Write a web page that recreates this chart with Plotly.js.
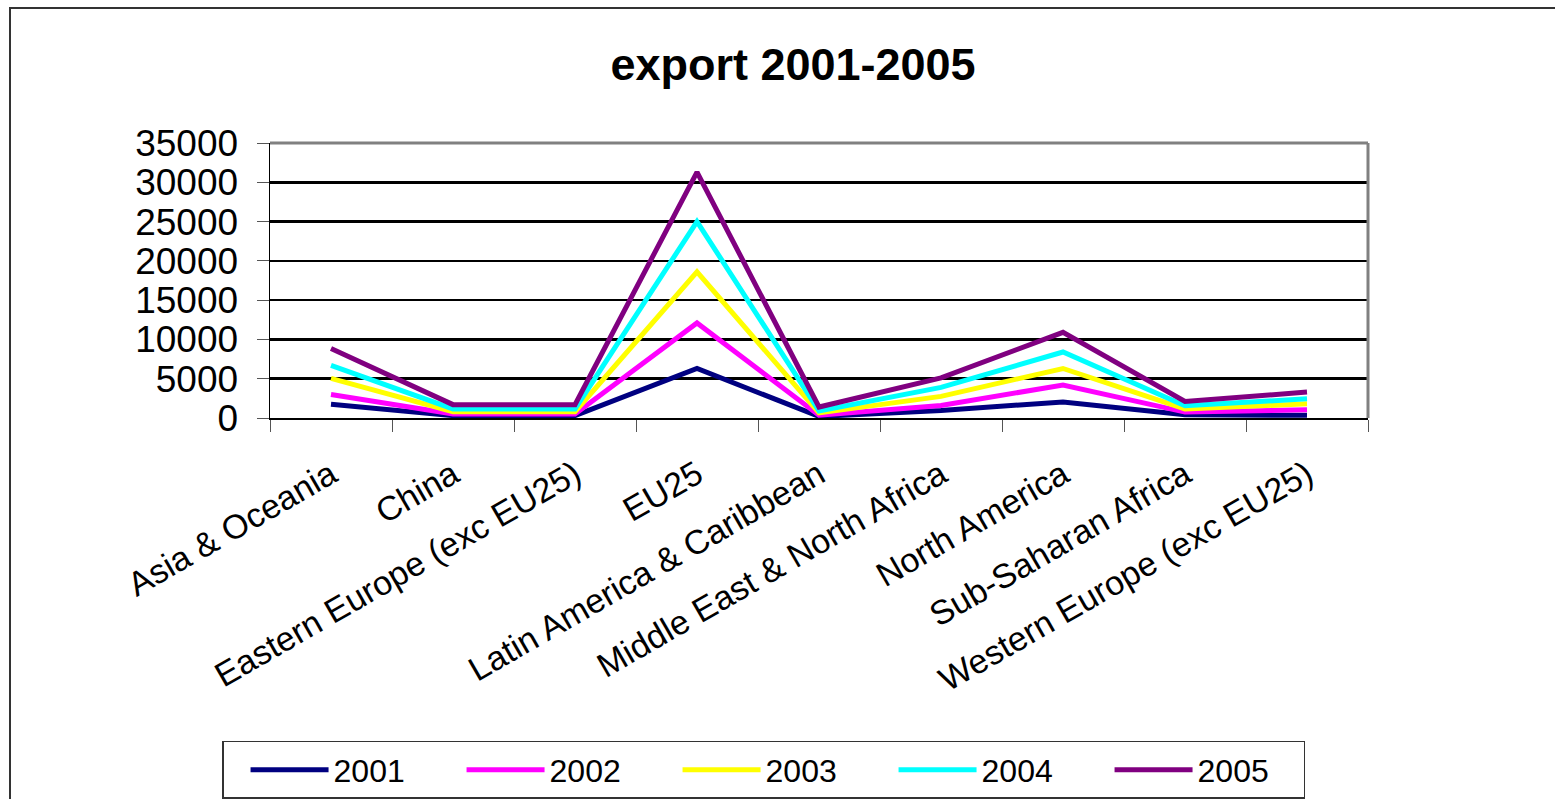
<!DOCTYPE html>
<html>
<head>
<meta charset="utf-8">
<script src="https://cdn.plot.ly/plotly-3.0.1.min.js"></script>
<style>
  html, body { margin: 0; padding: 0; background: #fff; overflow: hidden; }
  #chart { width: 1555px; height: 799px; }
  #frame { position: absolute; left: 9px; top: 7px; width: 1600px; height: 900px;
           border-left: 2px solid #333; border-top: 2px solid #333; pointer-events: none; }
</style>
</head>
<body>
<div id="chart"></div>
<div id="frame"></div>
<script>
// regions along the x axis
const regions = ['Asia & Oceania', 'China', 'Eastern Europe (exc EU25)', 'EU25',
  'Latin America & Caribbean', 'Middle East & North Africa', 'North America',
  'Sub-Saharan Africa', 'Western Europe (exc EU25)'];

// export values per year
const y2001 = [1750, 300, 300, 6300, 200, 950, 2050, 400, 350];
const y2002 = [3000, 500, 500, 12100, 350, 1600, 4200, 750, 1050];
const y2003 = [5050, 800, 800, 18600, 650, 2750, 6300, 1150, 1800];
const y2004 = [6700, 1150, 1150, 25000, 900, 3900, 8400, 1550, 2450];
const y2005 = [8850, 1700, 1700, 31300, 1400, 5100, 10900, 2100, 3300];

const years = ['2001', '2002', '2003', '2004', '2005'];
const seriesVals = [y2001, y2002, y2003, y2004, y2005];
const colors = ['#000080', '#ff00ff', '#ffff00', '#00ffff', '#800080'];

const traces = years.map((yr, i) => ({
  x: regions, y: seriesVals[i], name: yr,
  type: 'scatter', mode: 'lines',
  line: { color: colors[i], width: 5 },
}));

const font = 'Liberation Sans, Arial, sans-serif';

Plotly.newPlot('chart', traces, {
  width: 1555, height: 799,
  paper_bgcolor: '#fff', plot_bgcolor: '#fff',
  font: { family: font, color: '#000' },
  margin: { l: 270, r: 187, t: 143, b: 381 },
  showlegend: true,
  title: {
    text: '<b>export 2001-2005</b>', font: { size: 45, family: font, color: '#000' },
    xref: 'container', x: 0.51, yref: 'container', y: 0.92, yanchor: 'middle',
  },
  xaxis: {
    type: 'category', tickangle: -30, tickfont: { size: 34 }, automargin: false,
    showline: true, linecolor: '#000', linewidth: 1.5,
    ticks: 'outside', ticklen: 12, tickcolor: '#555', tickson: 'boundaries',
    ticklabelstandoff: 22, showgrid: false, range: [-0.5, 8.5],
  },
  yaxis: {
    range: [0, 35000], dtick: 5000, tickformat: 'd', tickfont: { size: 37 }, automargin: false,
    showline: true, linecolor: '#000', linewidth: 1.5,
    ticks: 'outside', ticklen: 12, tickcolor: '#555', ticklabelstandoff: 11,
    showgrid: true, gridcolor: '#000', gridwidth: 2.5, zeroline: false,
  },
  shapes: [
    { type: 'line', xref: 'paper', yref: 'paper', x0: 0, x1: 1, y0: 1, y1: 1, layer: 'above',
      line: { color: '#808080', width: 3 } },
    { type: 'line', xref: 'paper', yref: 'paper', x0: 1, x1: 1, y0: 0, y1: 1, layer: 'above',
      line: { color: '#808080', width: 3 } },
  ],
  legend: {
    orientation: 'h', xref: 'container', x: 0.1428, xanchor: 'left',
    yref: 'container', y: 0.0726, yanchor: 'top',
    font: { size: 32, family: font }, bordercolor: '#333', borderwidth: 1.5,
    entrywidth: 101, entrywidthmode: 'pixels', itemwidth: 78, indentation: 22,
  },
}, { displayModeBar: false, staticPlot: true });
</script>
</body>
</html>
